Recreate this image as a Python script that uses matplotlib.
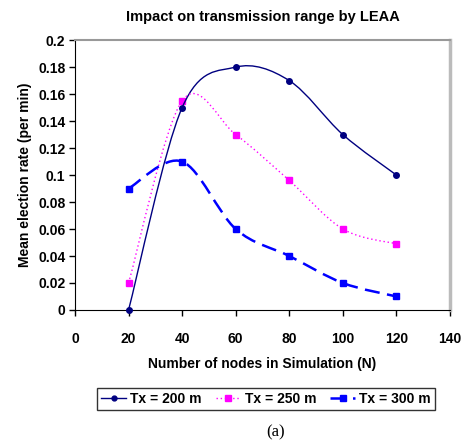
import numpy as np
import matplotlib
matplotlib.use('Agg')
import matplotlib.pyplot as plt
from matplotlib.path import Path
from matplotlib.patches import PathPatch
from matplotlib.lines import Line2D

plt.rcParams['font.family'] = ['Liberation Sans', 'DejaVu Sans']

nodes = [20, 40, 60, 80, 100, 120]
tx200 = [0.0, 0.15, 0.18, 0.17, 0.13, 0.10]
tx250 = [0.02, 0.155, 0.13, 0.096, 0.06, 0.049]
tx300 = [0.09, 0.11, 0.06, 0.04, 0.02, 0.01]
labels = ['Tx = 200 m', 'Tx = 250 m', 'Tx = 300 m']
xticks = [0, 20, 40, 60, 80, 100, 120, 140]
yticks = [0, 0.02, 0.04, 0.06, 0.08, 0.1, 0.12, 0.14, 0.16, 0.18, 0.2]
ytick_labels = ['0', '0.02', '0.04', '0.06', '0.08', '0.1', '0.12', '0.14',
                '0.16', '0.18', '0.2']


def smooth_path(ax, x, y):
    # Excel-like smoothed line: cubic bezier through the points, built in display space
    pts = ax.transData.transform(np.column_stack([x, y]))
    verts = [pts[0]]
    codes = [Path.MOVETO]
    n = len(pts)
    for i in range(n - 1):
        p0 = pts[max(i - 1, 0)]
        p1 = pts[i]
        p2 = pts[i + 1]
        p3 = pts[min(i + 2, n - 1)]
        c1 = p1 + (p2 - p0) / 6
        c2 = p2 - (p3 - p1) / 6
        verts += [c1, c2, p2]
        codes += [Path.CURVE4] * 3
    return Path(verts, codes)


fig = plt.figure(figsize=(4.62, 4.46), dpi=100)
ax = fig.add_axes([0.1623, 0.305, 0.8117, 0.605])
ax.set_xlim(0, 140)
ax.set_ylim(0, 0.2)
ax.set_xticks(xticks)
ax.set_yticks(yticks)
ax.set_yticklabels(ytick_labels)
ax.tick_params(direction='out', length=4, width=1, labelsize=10, pad=3)
ax.tick_params(axis='x', pad=12)
for t in ax.get_xticklabels() + ax.get_yticklabels():
    t.set_fontweight('bold')
ax.spines['left'].set_color('black')
ax.spines['bottom'].set_color('black')
ax.spines['top'].set_color('#999999')
ax.spines['right'].set_color('#bbbbbb')
ax.spines['right'].set_linewidth(2.5)
ax.spines['top'].set_linewidth(1.5)

styles = [
    dict(color='#000080', ls='-', lw=1.0, marker='o', ms=4),
    dict(color='#ff00ff', ls=(0, (1, 2)), lw=1.0, marker='s', ms=4.5),
    dict(color='#0000ff', ls=(0, (6, 3)), lw=1.8, marker='s', ms=4.5),
]
series = [tx200, tx250, tx300]

fig.canvas.draw()
handles = []
for vals, st, lab in zip(series, styles, labels):
    path = smooth_path(ax, nodes, vals)
    patch = PathPatch(path, transform=None, facecolor='none', edgecolor=st['color'],
                      linestyle=st['ls'], linewidth=st['lw'], clip_on=False)
    fig.add_artist(patch)
    ax.plot(nodes, vals, ls='none', marker=st['marker'], ms=st['ms'], color=st['color'],
            clip_on=False, zorder=3)
    handles.append(Line2D([], [], color=st['color'], ls=st['ls'], lw=st['lw'],
                          marker=st['marker'], ms=st['ms'] - 0.5))

ax.set_title('Impact on transmission range by LEAA', fontsize=10.5, fontweight='bold', pad=14)
ax.set_xlabel('Number of nodes in Simulation (N)', fontsize=10, fontweight='bold', labelpad=8)
ax.set_ylabel('Mean election rate (per min)', fontsize=10, fontweight='bold', labelpad=4)

leg = fig.legend(handles=handles, labels=labels, loc='center', bbox_to_anchor=(0.576, 0.105),
                 ncol=3, frameon=True, fancybox=False, edgecolor='black',
                 prop={'weight': 'bold', 'size': 10}, handlelength=1.8, handletextpad=0.3,
                 columnspacing=1.0, borderpad=0.3, borderaxespad=0)
leg.get_frame().set_linewidth(1.0)

fig.text(0.597, 0.031, '(a)', fontsize=12, family=['Liberation Serif', 'DejaVu Serif'],
         ha='center', va='center')

fig.savefig('out.png', dpi=100)
